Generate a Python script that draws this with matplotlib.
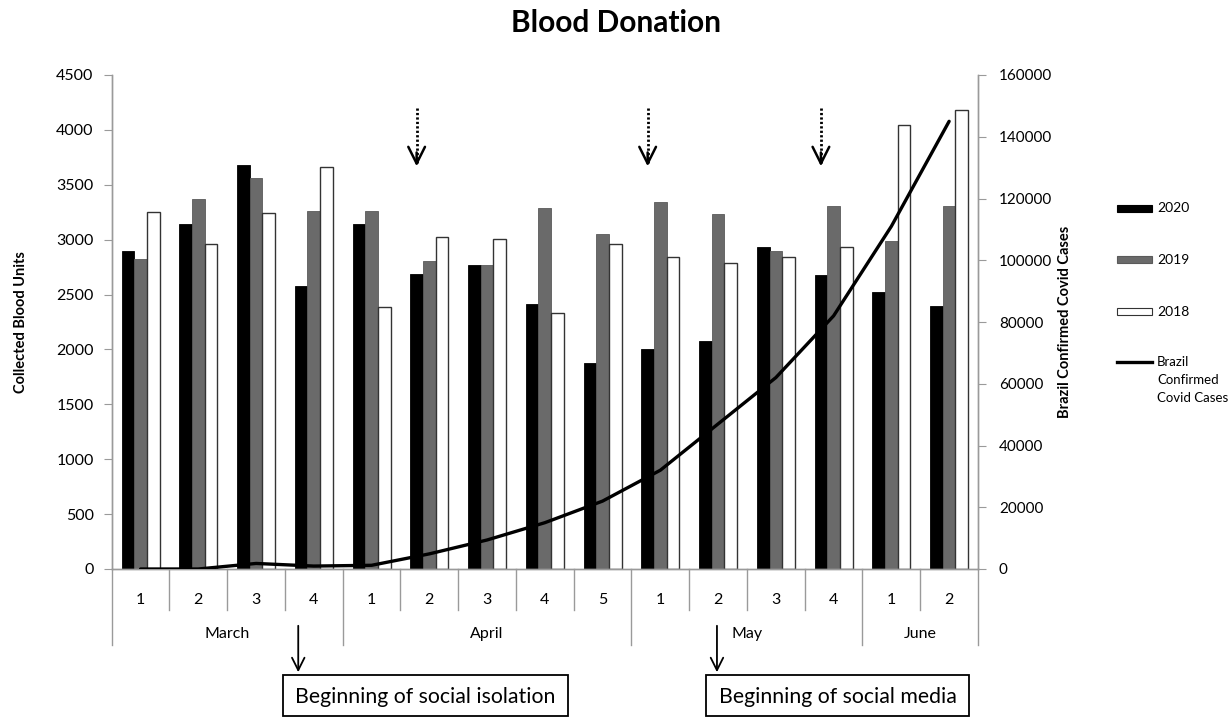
import numpy as np
import matplotlib.pyplot as plt
from matplotlib.patches import Rectangle
from matplotlib.lines import Line2D

plt.rcParams['font.family'] = ['Lato', 'DejaVu Sans']

# weekly categories
weeks = ['1', '2', '3', '4', '1', '2', '3', '4', '5', '1', '2', '3', '4', '1', '2']
months = ['March', 'April', 'May', 'June']
month_sizes = [4, 5, 4, 2]

# collected blood units per week
units_2020 = [2900, 3140, 3680, 2580, 3140, 2690, 2770, 2410, 1880, 2000, 2075, 2930, 2675, 2525, 2400]
units_2019 = [2820, 3375, 3565, 3265, 3265, 2810, 2770, 3290, 3055, 3340, 3230, 2895, 3310, 2985, 3310]
units_2018 = [3255, 2965, 3240, 3660, 2390, 3020, 3005, 2330, 2965, 2840, 2785, 2840, 2935, 4040, 4180]

# Brazil confirmed covid cases (right axis)
covid_cases = [0, 0, 1800, 950, 1200, 4900, 9400, 15000, 22000, 32000, 47000, 62000, 82000, 111000, 145000]

# annotations
dotted_arrow_weeks = [5, 9, 12]
event_weeks = [2.73, 9.98]
event_labels = ['Beginning of social isolation', 'Beginning of social media']

W, H = 1231, 717
fig = plt.figure(figsize=(W / 100, H / 100), dpi=100)

def fx(px):
    return px / W

def fy(py):
    return 1 - py / H

ax = fig.add_axes([fx(111.7), fy(569), fx(978) - fx(111.7), fy(75) - fy(569)])
ax2 = ax.twinx()

x = np.arange(len(weeks))
bw = 0.22
ax.bar(x - bw, units_2020, bw, color='black', edgecolor='black', linewidth=0.6, zorder=2)
ax.bar(x, units_2019, bw, color='#6a6a6a', edgecolor='#5a5a5a', linewidth=0.6, zorder=2)
ax.bar(x + bw, units_2018, bw, color='white', edgecolor='#333333', linewidth=1.0, zorder=2)

ax2.plot(x, covid_cases, color='black', linewidth=2.4, solid_capstyle='round', zorder=3)

ax.set_xlim(-0.5, len(weeks) - 0.5)
ax.set_ylim(0, 4500)
ax.set_yticks(range(0, 4501, 500))
ax2.set_ylim(0, 160000)
ax2.set_yticks(range(0, 160001, 20000))

grey = '#9a9a9a'
for a in (ax, ax2):
    a.spines['top'].set_visible(False)
    for s in ('left', 'right', 'bottom'):
        a.spines[s].set_color(grey)
        a.spines[s].set_linewidth(1.0)
ax.tick_params(axis='y', direction='out', length=6, color=grey, labelsize=11.5, pad=7)
ax2.tick_params(axis='y', direction='out', length=6, color=grey, labelsize=11, pad=9)
ax.set_xticks([])

ax.set_ylabel('Collected Blood Units', fontsize=10.5, fontweight='bold')
ax.yaxis.set_label_coords((28 - 111.7) / (978 - 111.7), 0.5)
ax2.set_ylabel('Brazil Confirmed Covid Cases', fontsize=10.5, fontweight='bold')
ax2.yaxis.set_label_coords((1058 - 111.7) / (978 - 111.7), 0.5)

# two-level category axis
trans = ax.get_xaxis_transform()
ah = 569 - 75
def ay(py):
    return (569 - py) / ah

for i, w in enumerate(weeks):
    ax.text(i, ay(600), w, transform=trans, ha='center', va='center', fontsize=11.5)

bounds = np.cumsum([0] + month_sizes) - 0.5
for b in np.arange(-0.5, len(weeks), 1.0):
    bottom = ay(645) if np.any(np.isclose(bounds, b)) else ay(610)
    ax.plot([b, b], [0, bottom], transform=trans, color=grey, linewidth=1.0, clip_on=False)
for m, lo, hi in zip(months, bounds[:-1], bounds[1:]):
    ax.text((lo + hi) / 2, ay(634), m, transform=trans, ha='center', va='center', fontsize=11.5)

# dotted arrows over 2020 bars
for wk in dotted_arrow_weeks:
    xa = wk - bw
    ax.plot([xa, xa], [4200, 3700], color='black', linestyle=(0, (0.8, 0.8)), linewidth=2.0, zorder=4)
    ax.annotate('', xy=(xa, 3643), xytext=(xa, 3820),
                arrowprops=dict(arrowstyle='->,head_length=1.2,head_width=0.6', color='black', lw=1.8))

# event arrows and boxes
boxes = [(283, 568), (706, 969)]
for wk, label, (bx0, bx1) in zip(event_weeks, event_labels, boxes):
    ax.annotate('', xy=(wk, fy(675)), xytext=(wk, fy(623)),
                xycoords=('data', 'figure fraction'), textcoords=('data', 'figure fraction'),
                arrowprops=dict(arrowstyle='->,head_length=0.9,head_width=0.45', color='black', lw=1.3))
    fig.patches.append(Rectangle((fx(bx0), fy(716)), fx(bx1) - fx(bx0), fy(675) - fy(716),
                                 transform=fig.transFigure, facecolor='white', edgecolor='black', linewidth=1.3))
    fig.text(fx((bx0 + bx1) / 2), fy(697), label, ha='center', va='center', fontsize=15.3)

# legend
leg_x0, leg_x1 = 1117, 1152
for yy, fc, ec in [(208.5, 'black', 'black'), (260, '#6a6a6a', '#5a5a5a'), (311.5, 'white', '#333333')]:
    fig.patches.append(Rectangle((fx(leg_x0), fy(yy + 3.5)), fx(leg_x1) - fx(leg_x0), fy(yy - 3.5) - fy(yy + 3.5),
                                 transform=fig.transFigure, facecolor=fc, edgecolor=ec, linewidth=0.8))
for yy, lab in [(208.5, '2020'), (260, '2019'), (311.5, '2018')]:
    fig.text(fx(1157), fy(yy), lab, ha='left', va='center', fontsize=10)
fig.lines.append(Line2D([fx(leg_x0), fx(leg_x1)], [fy(362), fy(362)], transform=fig.transFigure,
                        color='black', linewidth=2.4))
for yy, lab in [(362, 'Brazil'), (380, 'Confirmed'), (398, 'Covid Cases')]:
    fig.text(fx(1157), fy(yy), lab, ha='left', va='center', fontsize=9.5)

fig.text(fx(616), fy(23), 'Blood Donation', ha='center', va='center', fontsize=21.5, fontweight='bold')

fig.savefig('out.png', dpi=100)
